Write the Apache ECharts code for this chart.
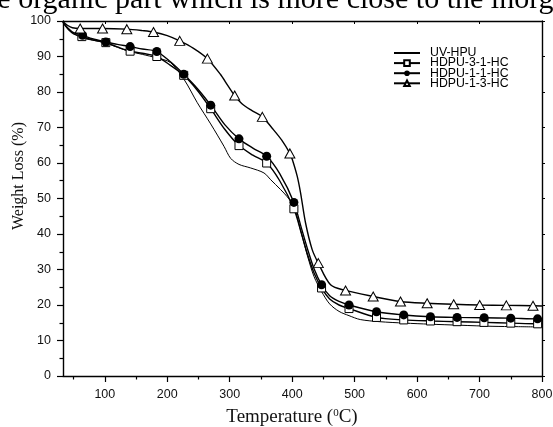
<!DOCTYPE html>
<html>
<head>
<meta charset="utf-8">
<script src="https://cdn.jsdelivr.net/npm/echarts@6/dist/echarts.min.js"></script>
<style>
  html, body { margin: 0; padding: 0; background: #fff; }
  #chart { width: 553px; height: 427px; }
</style>
</head>
<body>
<div id="chart"></div>
<script>
// axis ticks
const xMin = 33, xMax = 800;
const majorTemps = [100, 200, 300, 400, 500, 600, 700, 800];
const minorTemps = [50, 150, 250, 350, 450, 550, 650, 750];

// UV-HPU (plain line)
const uvTemp = [33, 40, 50, 63, 80, 100, 120, 140, 160, 183, 205, 227, 248, 269.5, 290.8, 301.5, 314.8, 333.5, 354.8, 365.5, 381.5, 392, 402.7, 415, 425, 435, 447, 460, 475, 491, 509, 540, 580, 620, 669, 720, 760, 800];
const uvWeight = [99.6, 98.0, 96.5, 95.3, 94.6, 93.9, 92.6, 91.4, 90.6, 89.6, 88.3, 83.5, 77.0, 71.0, 64.7, 61.3, 59.6, 58.6, 57.2, 55.3, 52.5, 50.5, 47.8, 40.0, 33.5, 28.0, 23.8, 20.3, 18.2, 17.0, 15.9, 15.3, 14.9, 14.6, 14.3, 14.0, 13.9, 13.8];

// HDPU-3-1-HC (open squares)
const s31Temp = [33, 42, 50, 63.2, 80, 101.6, 120, 140.5, 160, 183.2, 205, 226.3, 248, 269.5, 292, 314.8, 337, 359.1, 380, 402.7, 415, 425, 435, 447, 460, 475, 491, 535, 578.6, 621.4, 664, 707, 750, 793, 800];
const s31Weight = [99.6, 97.5, 96.4, 95.6, 94.7, 93.9, 92.7, 91.5, 90.9, 90.0, 87.5, 84.7, 80.5, 75.3, 69.5, 64.9, 62.2, 60.0, 55.0, 47.1, 40.0, 34.0, 29.0, 24.8, 21.7, 20.0, 19.0, 16.5, 15.8, 15.5, 15.3, 15.1, 14.9, 14.7, 14.7];
const s31Marks = [63.2, 101.6, 140.5, 183.2, 226.3, 269.5, 314.8, 359.1, 402.7, 447, 491, 535, 578.6, 621.4, 664, 707, 750, 793];

// HDPU-1-1-HC (filled circles)
const s11Temp = [33, 42, 50, 64.3, 80, 101.6, 120, 140.5, 160, 183.2, 205, 226.3, 248, 269.5, 292, 314.8, 337, 359.1, 380, 402.7, 415, 425, 435, 447, 460, 475, 491, 535, 578.6, 621.4, 664, 707.4, 750, 792.9, 800];
const s11Weight = [99.7, 97.8, 96.7, 96.0, 95.0, 94.1, 93.4, 92.8, 92.1, 91.4, 88.5, 85.0, 81.0, 76.3, 70.8, 66.8, 64.2, 61.9, 57.0, 48.9, 41.5, 35.5, 30.2, 25.7, 22.6, 21.0, 20.0, 18.1, 17.2, 16.7, 16.5, 16.4, 16.3, 16.1, 16.1];
const s11Marks = [64.3, 101.6, 140.5, 183.2, 226.3, 269.5, 314.8, 359.1, 402.7, 447, 491, 535, 578.6, 621.4, 664, 707.4, 750, 792.9];

// HDPU-1-3-HC (open triangles)
const s13Temp = [33, 40, 48, 60.5, 96.3, 135.2, 160, 177.9, 200, 219.9, 242, 264.2, 285, 297, 307.9, 320, 335, 352.2, 368, 383, 396.3, 400.2, 408, 413.4, 421.4, 432, 441.8, 461.4, 485.4, 529.7, 573.4, 616.1, 658.6, 700.2, 742.9, 785.6, 800];
const s13Weight = [99.8, 98.8, 98.1, 97.9, 97.9, 97.7, 97.3, 96.9, 95.9, 94.4, 92.3, 89.4, 85.0, 81.8, 79.0, 76.6, 74.8, 73.0, 69.8, 66.5, 62.7, 61.0, 56.3, 51.6, 43.1, 35.6, 31.8, 25.7, 24.1, 22.4, 21.0, 20.5, 20.2, 20.0, 19.9, 19.8, 19.7];
const s13Marks = [60.5, 96.3, 135.2, 177.9, 219.9, 264.2, 307.9, 352.2, 396.3, 441.8, 485.4, 529.7, 573.4, 616.1, 658.6, 700.2, 742.9, 785.6];

const buildData = (temps, weights, marks) => temps.map((t, i) => {
  const item = { value: [t, weights[i]] };
  if (marks.indexOf(t) < 0) item.symbol = 'none';
  return item;
});

const tickFont = { fontFamily: 'Liberation Sans', fontSize: 12.5, color: '#111' };

const myChart = echarts.init(document.getElementById('chart'), null, { renderer: 'canvas' });
myChart.setOption({
  animation: false,
  backgroundColor: '#fff',
  grid: { left: 63, right: 11, top: 21, bottom: 51, outerBoundsMode: 'none' },
  legend: {
    orient: 'vertical',
    left: 388,
    top: 42,
    itemWidth: 26,
    itemHeight: 7,
    itemGap: -1.9,
    textStyle: { fontFamily: 'Liberation Sans', fontSize: 12.3, color: '#000', padding: [0, 0, 0, 5] },
    data: [
      { name: 'UV-HPU', itemStyle: { opacity: 0 } },
      { name: 'HDPU-3-1-HC' },
      { name: 'HDPU-1-1-HC' },
      { name: 'HDPU-1-3-HC' }
    ]
  },
  xAxis: [{
    type: 'value', min: xMin, max: xMax, position: 'bottom',
    axisLine: { lineStyle: { color: '#000', width: 1.4 } },
    axisTick: { customValues: majorTemps, length: 6, lineStyle: { color: '#000', width: 1.2 } },
    axisLabel: Object.assign({ customValues: majorTemps, margin: 12 }, tickFont),
    splitLine: { show: false }
  }, {
    type: 'value', min: xMin, max: xMax, position: 'bottom',
    axisLine: { show: false },
    axisTick: { customValues: minorTemps, length: 3.5, lineStyle: { color: '#000', width: 1.2 } },
    axisLabel: { show: false },
    splitLine: { show: false }
  }, {
    type: 'value', min: xMin, max: xMax, position: 'top',
    axisLine: { lineStyle: { color: '#000', width: 1.4 } },
    axisTick: { customValues: majorTemps, inside: true, length: 3, lineStyle: { color: '#000', width: 1 } },
    axisLabel: { show: false },
    splitLine: { show: false }
  }],
  yAxis: [{
    type: 'value', min: 0, max: 100, interval: 10, position: 'left',
    axisLine: { show: true, lineStyle: { color: '#000', width: 1.4 } },
    axisTick: { show: true, length: 6, lineStyle: { color: '#000', width: 1.2 } },
    minorTick: { show: true, splitNumber: 2, length: 3.5, lineStyle: { color: '#000', width: 1.2 } },
    axisLabel: Object.assign({ margin: 12 }, tickFont),
    splitLine: { show: false }
  }, {
    type: 'value', min: 0, max: 100, interval: 10, position: 'right',
    axisLine: { show: true, lineStyle: { color: '#000', width: 1.4 } },
    axisTick: { show: true, length: 3, lineStyle: { color: '#000', width: 1 } },
    axisLabel: { show: false },
    splitLine: { show: false }
  }],
  graphic: [{
    type: 'text', left: -26, top: -15, silent: true,
    style: { text: 'the organic part which is more close to the inorganic', font: '30px "Liberation Serif"', fill: '#000' }
  }, {
    type: 'text', x: 19, y: 176, rotation: Math.PI / 2, silent: true,
    style: { text: 'Weight Loss (%)', font: '16px "Liberation Serif"', fill: '#111', align: 'center', verticalAlign: 'middle' }
  }, {
    type: 'text', x: 292, y: 417, silent: true,
    style: {
      text: '{a|Temperature (}{b|0}{a|C)}', align: 'center', verticalAlign: 'middle',
      rich: {
        a: { fontFamily: 'Liberation Serif', fontSize: 19, fill: '#111', color: '#111' },
        b: { fontFamily: 'Liberation Serif', fontSize: 11, fill: '#111', color: '#111', verticalAlign: 'top', padding: [0, 0, 8, 0] }
      }
    }
  }],
  series: [{
    name: 'UV-HPU', type: 'line', smooth: 0.3,
    symbol: 'none',
    lineStyle: { color: '#000', width: 1 },
    itemStyle: { color: '#000' },
    data: buildData(uvTemp, uvWeight, [])
  }, {
    name: 'HDPU-3-1-HC', type: 'line', smooth: 0.3,
    symbol: 'rect', symbolSize: 8,
    lineStyle: { color: '#000', width: 1.4 },
    itemStyle: { color: '#fff', borderColor: '#000', borderWidth: 1 },
    data: buildData(s31Temp, s31Weight, s31Marks)
  }, {
    name: 'HDPU-1-1-HC', type: 'line', smooth: 0.3,
    symbol: 'circle', symbolSize: 9,
    lineStyle: { color: '#000', width: 1.4 },
    itemStyle: { color: '#000', borderColor: '#000', borderWidth: 0 },
    data: buildData(s11Temp, s11Weight, s11Marks)
  }, {
    name: 'HDPU-1-3-HC', type: 'line', smooth: 0.3,
    symbol: 'triangle', symbolSize: [10, 9],
    lineStyle: { color: '#000', width: 1.4 },
    itemStyle: { color: '#fff', borderColor: '#000', borderWidth: 1 },
    data: buildData(s13Temp, s13Weight, s13Marks)
  }]
});
</script>
</body>
</html>
